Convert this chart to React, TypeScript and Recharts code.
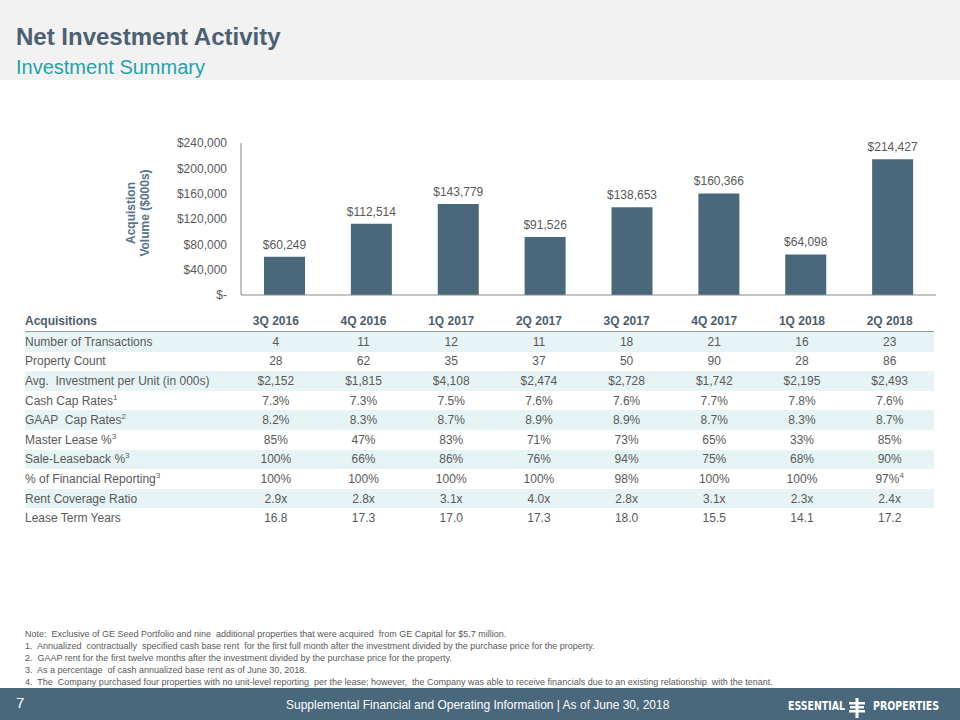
import React from "react";
import { BarChart, Bar, XAxis, YAxis, LabelList } from "recharts";

const quarters = ["3Q 2016", "4Q 2016", "1Q 2017", "2Q 2017", "3Q 2017", "4Q 2017", "1Q 2018", "2Q 2018"];
const volumes = [60249, 112514, 143779, 91526, 138653, 160366, 64098, 214427];
const yTicks = [0, 40000, 80000, 120000, 160000, 200000, 240000];

const numTransactions = ["4", "11", "12", "11", "18", "21", "16", "23"];
const propertyCount = ["28", "62", "35", "37", "50", "90", "28", "86"];
const avgInvestment = ["$2,152", "$1,815", "$4,108", "$2,474", "$2,728", "$1,742", "$2,195", "$2,493"];
const cashCapRates = ["7.3%", "7.3%", "7.5%", "7.6%", "7.6%", "7.7%", "7.8%", "7.6%"];
const gaapCapRates = ["8.2%", "8.3%", "8.7%", "8.9%", "8.9%", "8.7%", "8.3%", "8.7%"];
const masterLease = ["85%", "47%", "83%", "71%", "73%", "65%", "33%", "85%"];
const saleLeaseback = ["100%", "66%", "86%", "76%", "94%", "75%", "68%", "90%"];
const financialReporting = ["100%", "100%", "100%", "100%", "98%", "100%", "100%", "97%"];
const financialReportingNotes = ["", "", "", "", "", "", "", "4"];
const rentCoverage = ["2.9x", "2.8x", "3.1x", "4.0x", "2.8x", "3.1x", "2.3x", "2.4x"];
const leaseTerm = ["16.8", "17.3", "17.0", "17.3", "18.0", "15.5", "14.1", "17.2"];

const rowLabels = [
  { label: "Number of Transactions", sup: "" },
  { label: "Property Count", sup: "" },
  { label: "Avg.  Investment per Unit (in 000s)", sup: "" },
  { label: "Cash Cap Rates", sup: "1" },
  { label: "GAAP  Cap Rates", sup: "2" },
  { label: "Master Lease %", sup: "3" },
  { label: "Sale-Leaseback %", sup: "3" },
  { label: "% of Financial Reporting", sup: "3" },
  { label: "Rent Coverage Ratio", sup: "" },
  { label: "Lease Term Years", sup: "" },
];
const rowValues = [
  numTransactions,
  propertyCount,
  avgInvestment,
  cashCapRates,
  gaapCapRates,
  masterLease,
  saleLeaseback,
  financialReporting,
  rentCoverage,
  leaseTerm,
];
const rowValueNotes = [null, null, null, null, null, null, null, financialReportingNotes, null, null];

const footnotes = [
  "Note:  Exclusive of GE Seed Portfolio and nine  additional properties that were acquired  from GE Capital for $5.7 million.",
  "1.  Annualized  contractually  specified cash base rent  for the first full month after the investment divided by the purchase price for the property.",
  "2.  GAAP rent for the first twelve months after the investment divided by the purchase price for the property.",
  "3.  As a percentage  of cash annualized base rent as of June 30, 2018.",
  "4.  The  Company purchased four properties with no unit-level reporting  per the lease; however,  the Company was able to receive financials due to an existing relationship  with the tenant.",
];

const chartData = quarters.map((q, i) => ({ quarter: q, volume: volumes[i] }));

const SLATE = "#4a687c";
const GRAY_TEXT = "#595959";
const FONT = "'Liberation Sans', Arial, Helvetica, sans-serif";

const fmtTick = (v: number) => (v === 0 ? "$-" : "$" + v.toLocaleString("en-US"));
const fmtLabel = (v: any) => "$" + Number(v).toLocaleString("en-US");

const LABEL_COL = 207;
const VAL_COL = 87.7;
const ROW_H = 19.6;

export default function App() {
  return (
    <div
      style={{
        position: "absolute",
        left: 0,
        top: 0,
        width: 960,
        height: 720,
        background: "#ffffff",
        overflow: "hidden",
        fontFamily: FONT,
      }}
    >
      {/* Header band */}
      <div style={{ position: "absolute", left: 0, top: 0, width: 960, height: 80, background: "#f2f2f2" }} />
      <div
        style={{
          position: "absolute",
          left: 16,
          top: 23,
          fontSize: 24,
          fontWeight: "bold",
          color: "#4c6072",
          lineHeight: "28px",
          whiteSpace: "nowrap",
        }}
      >
        Net Investment Activity
      </div>
      <div
        style={{
          position: "absolute",
          left: 16,
          top: 55,
          fontSize: 20,
          color: "#22a3ab",
          lineHeight: "24px",
          whiteSpace: "nowrap",
        }}
      >
        Investment Summary
      </div>

      {/* Y axis title */}
      <div
        style={{
          position: "absolute",
          left: 139 - 60,
          top: 213 - 15,
          width: 120,
          height: 30,
          transform: "rotate(-90deg)",
          transformOrigin: "center center",
          textAlign: "center",
          fontSize: 12,
          fontWeight: "bold",
          lineHeight: "14px",
          color: "#55738a",
        }}
      >
        <div>Acquistion</div>
        <div>Volume ($000s)</div>
      </div>

      {/* Bar chart */}
      <div style={{ position: "absolute", left: 0, top: 120 }}>
        <BarChart
          width={960}
          height={200}
          data={chartData}
          margin={{ top: 23, right: 24, bottom: 24, left: 0 }}
          barCategoryGap={0}
        >
          <XAxis
            dataKey="quarter"
            tick={false}
            tickLine={false}
            height={1}
            axisLine={{ stroke: "#8a8a8a", strokeWidth: 1 }}
          />
          <YAxis
            width={241}
            domain={[0, 240000]}
            ticks={yTicks}
            tickFormatter={fmtTick}
            tickLine={false}
            tickMargin={8}
            axisLine={{ stroke: "#8a8a8a", strokeWidth: 1 }}
            tick={{ fill: GRAY_TEXT, fontSize: 12, fontFamily: FONT }}
            interval={0}
          />
          <Bar dataKey="volume" fill={SLATE} barSize={41} isAnimationActive={false}>
            <LabelList
              dataKey="volume"
              position="top"
              offset={8}
              formatter={fmtLabel}
              style={{ fill: GRAY_TEXT, fontSize: 12, fontFamily: FONT }}
            />
          </Bar>
        </BarChart>
      </div>

      {/* Table */}
      <div style={{ position: "absolute", left: 25, top: 311, width: LABEL_COL + VAL_COL * 8 }}>
        <div
          style={{
            display: "flex",
            height: 20,
            alignItems: "center",
            borderBottom: "1.5px solid #9a9a9a",
            fontSize: 12,
            fontWeight: "bold",
            color: "#4d5c6a",
          }}
        >
          <div style={{ width: LABEL_COL, whiteSpace: "nowrap" }}>Acquisitions</div>
          {quarters.map((q) => (
            <div key={q} style={{ width: VAL_COL, textAlign: "center", whiteSpace: "nowrap" }}>
              {q}
            </div>
          ))}
        </div>
        {rowLabels.map((r, ri) => (
          <div
            key={r.label}
            style={{
              display: "flex",
              height: ROW_H,
              alignItems: "center",
              background: ri % 2 === 0 ? "#e6f4f6" : "transparent",
              fontSize: 12,
              color: GRAY_TEXT,
            }}
          >
            <div style={{ width: LABEL_COL, whiteSpace: "pre" }}>
              {r.label}
              {r.sup ? (
                <span style={{ fontSize: 8, position: "relative", top: -5 }}>{r.sup}</span>
              ) : null}
            </div>
            {rowValues[ri].map((v, ci) => (
              <div key={ci} style={{ width: VAL_COL, textAlign: "center", whiteSpace: "nowrap" }}>
                {v}
                {rowValueNotes[ri] && rowValueNotes[ri]![ci] ? (
                  <span style={{ fontSize: 8, position: "relative", top: -5 }}>{rowValueNotes[ri]![ci]}</span>
                ) : null}
              </div>
            ))}
          </div>
        ))}
      </div>

      {/* Footnotes */}
      <div
        style={{
          position: "absolute",
          left: 25,
          top: 628,
          fontSize: 9,
          lineHeight: "12px",
          color: GRAY_TEXT,
          whiteSpace: "pre",
        }}
      >
        {footnotes.map((f, i) => (
          <div key={i}>{f}</div>
        ))}
      </div>

      {/* Footer band */}
      <div style={{ position: "absolute", left: 0, top: 688, width: 960, height: 32, background: SLATE }} />
      <div
        style={{
          position: "absolute",
          left: 16,
          top: 694,
          fontSize: 15,
          color: "#ffffff",
          lineHeight: "18px",
        }}
      >
        7
      </div>
      <div
        style={{
          position: "absolute",
          left: 286,
          top: 697,
          fontSize: 12,
          color: "#ffffff",
          lineHeight: "16px",
          whiteSpace: "nowrap",
        }}
      >
        Supplemental Financial and Operating Information |  As of June 30, 2018
      </div>
      <svg style={{ position: "absolute", left: 780, top: 690 }} width={170} height={30}>
        <text
          x={8}
          y={20}
          fontSize={12}
          fontWeight="bold"
          fill="#ffffff"
          fontFamily="'DejaVu Sans Condensed', 'Liberation Sans Narrow', 'Liberation Sans', sans-serif"
          textLength={57}
          lengthAdjust="spacingAndGlyphs"
        >
          ESSENTIAL
        </text>
        <rect x={75.5} y={8} width={3} height={20} fill="#ffffff" />
        <rect x={69} y={12} width={16} height={2.5} fill="#ffffff" />
        <rect x={70} y={16} width={14} height={2.5} fill="#ffffff" />
        <rect x={69} y={20} width={16} height={2.5} fill="#ffffff" />
        <text
          x={93}
          y={20}
          fontSize={12}
          fontWeight="bold"
          fill="#ffffff"
          fontFamily="'DejaVu Sans Condensed', 'Liberation Sans Narrow', 'Liberation Sans', sans-serif"
          textLength={66}
          lengthAdjust="spacingAndGlyphs"
        >
          PROPERTIES
        </text>
      </svg>
    </div>
  );
}
